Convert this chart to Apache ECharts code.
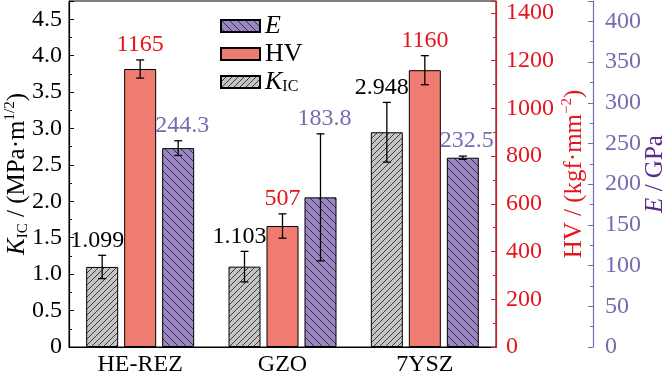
<!DOCTYPE html>
<html>
<head>
<meta charset="utf-8">
<script src="https://cdn.jsdelivr.net/npm/echarts@6/dist/echarts.min.js"></script>
<style>
  html, body { margin: 0; padding: 0; background: #fff; }
  #main { width: 671px; height: 377px; }
</style>
</head>
<body>
<div id="main"></div>
<script>
// 数据
var categories = ["HE-REZ", "GZO", "7YSZ"];
var kicValues = [1.099, 1.103, 2.948];
var kicErrors = [0.16, 0.21, 0.41];
var hvValues = [1165, 507, 1160];
var hvErrors = [38, 51, 61];
var eValues = [244.3, 183.8, 232.5];
var eErrors = [9, 78, 2];
var kicLabels = ["1.099", "1.103", "2.948"];
var hvLabels = ["1165", "507", "1160"];
var eLabels = ["244.3", "183.8", "232.5"];

var FONT = '"Liberation Serif", "Times New Roman", serif';
var RED = "#e3161d";
var PURPLE = "#7a68b0";
var BAR_W = 32;
var BAR_GAP = 6;

// 斜线填充
function hatch(bg, dir, step) {
  var c = document.createElement("canvas");
  c.width = c.height = step;
  var g = c.getContext("2d");
  g.fillStyle = bg;
  g.fillRect(0, 0, step, step);
  g.strokeStyle = "#2a2a2a";
  g.lineWidth = 0.9;
  g.beginPath();
  if (dir > 0) {
    g.moveTo(0, step); g.lineTo(step, 0);
    g.moveTo(-1, 1); g.lineTo(1, -1);
    g.moveTo(step - 1, step + 1); g.lineTo(step + 1, step - 1);
  } else {
    g.moveTo(0, 0); g.lineTo(step, step);
    g.moveTo(-1, step - 1); g.lineTo(1, step + 1);
    g.moveTo(step - 1, -1); g.lineTo(step + 1, 1);
  }
  g.stroke();
  return { image: c, repeat: "repeat" };
}

// 误差线 + 数值标签
function errSeries(name, yIdx, vals, errs, labels, slot, color, dx) {
  var data = vals.map(function (v, i) { return [i, v, errs[i]]; });
  return {
    name: name,
    type: "custom",
    yAxisIndex: yIdx,
    z: 10,
    silent: true,
    encode: { x: 0, y: 1 },
    data: data,
    renderItem: function (params, api) {
      var i = api.value(0), v = api.value(1), e = api.value(2);
      var top = api.coord([i, v + e]);
      var bot = api.coord([i, v - e]);
      var x = top[0] + slot * (BAR_W + BAR_GAP);
      var st = { stroke: "#000", lineWidth: 1.3 };
      return {
        type: "group",
        children: [
          { type: "line", shape: { x1: x, y1: top[1], x2: x, y2: bot[1] }, style: st },
          { type: "line", shape: { x1: x - 4, y1: top[1], x2: x + 4, y2: top[1] }, style: st },
          { type: "line", shape: { x1: x - 4, y1: bot[1], x2: x + 4, y2: bot[1] }, style: st },
          {
            type: "text",
            x: x + dx,
            y: top[1] - 3,
            style: {
              text: labels[i],
              fill: color,
              fontSize: 24,
              fontFamily: FONT,
              align: "center",
              verticalAlign: "bottom"
            }
          }
        ]
      };
    }
  };
}

var chart = echarts.init(document.getElementById("main"));
chart.setOption({
  animation: false,
  textStyle: { fontFamily: FONT },
  grid: {
    left: 69, right: 175, top: 1, bottom: 30,
    outerBoundsMode: "none",
    containLabel: false,
    show: true, borderColor: "#000", borderWidth: 1, backgroundColor: "transparent"
  },
  legend: {
    data: ["E", "HV", "KIC"],
    orient: "vertical",
    left: 215,
    top: 8,
    itemWidth: 39,
    itemHeight: 12,
    itemGap: 2,
    icon: "rect",
    textStyle: {
      fontSize: 26, color: "#000", fontFamily: FONT, lineHeight: 26,
      rich: {
        i: { fontSize: 26, fontStyle: "italic", fontFamily: FONT, lineHeight: 26 },
        sub: { fontSize: 16, fontFamily: FONT, verticalAlign: "bottom", lineHeight: 16 },
        n: { fontSize: 26, fontFamily: FONT, lineHeight: 26 }
      }
    },
    formatter: function (n) {
      if (n === "E") return "{i|E}";
      if (n === "KIC") return "{i|K}{sub|IC}";
      return "{n|" + n + "}";
    }
  },
  xAxis: {
    type: "category",
    data: categories,
    axisLine: { lineStyle: { color: "#000", width: 1.2 } },
    axisTick: { show: false },
    axisLabel: { fontSize: 24, color: "#000", fontFamily: FONT, margin: 6 }
  },
  yAxis: [
    {
      type: "value",
      min: 0, max: 4.75, interval: 0.5,
      position: "left",
      name: "{i|K}{sub|IC}{n| / (MPa·m}{sup|1/2}{n|)}",
      nameLocation: "middle",
      nameRotate: 90,
      nameGap: 38,
      nameMoveOverlap: false,
      nameTextStyle: {
        rich: {
          i: { fontSize: 25, fontStyle: "italic", fontFamily: FONT, color: "#000", lineHeight: 28 },
          n: { fontSize: 25, fontFamily: FONT, color: "#000", lineHeight: 28 },
          sub: { fontSize: 15, fontFamily: FONT, color: "#000", verticalAlign: "bottom", lineHeight: 15 },
          sup: { fontSize: 15, fontFamily: FONT, color: "#000", verticalAlign: "top", lineHeight: 15 }
        }
      },
      splitLine: { show: false },
      axisLine: { show: true, lineStyle: { color: "#000", width: 1.2 } },
      axisTick: { show: true, inside: true, length: 5, lineStyle: { color: "#000" } },
      minorTick: { show: true, splitNumber: 2, length: 3, lineStyle: { color: "#000" } },
      axisLabel: {
        fontSize: 24, color: "#000", fontFamily: FONT, margin: 7,
        formatter: function (v) {
          if (Math.abs(v * 2 - Math.round(v * 2)) > 1e-6) return "";
          return v === 0 ? "0" : v.toFixed(1);
        }
      }
    },
    {
      type: "value",
      min: 0, max: 1450, interval: 200,
      position: "right",
      name: "{n|HV / (kgf·mm}{sup|−2}{n|)}",
      nameLocation: "middle",
      nameRotate: 90,
      nameGap: 64,
      nameMoveOverlap: false,
      nameTextStyle: {
        rich: {
          n: { fontSize: 25, fontFamily: FONT, color: RED, lineHeight: 28 },
          sup: { fontSize: 15, fontFamily: FONT, color: RED, verticalAlign: "top", lineHeight: 15 }
        }
      },
      splitLine: { show: false },
      axisLine: { show: true, lineStyle: { color: RED, width: 1.2 } },
      axisTick: { show: true, inside: true, length: 5, lineStyle: { color: RED } },
      minorTick: { show: true, splitNumber: 2, length: 3, lineStyle: { color: RED } },
      axisLabel: {
        fontSize: 24, color: RED, fontFamily: FONT, margin: 10,
        formatter: function (v) { return v % 200 === 0 ? String(v) : ""; }
      }
    },
    {
      type: "value",
      min: 0, max: 425, interval: 50,
      position: "right",
      offset: 97,
      name: "{i|E}{p| / GPa}",
      nameLocation: "middle",
      nameRotate: 90,
      nameGap: 50,
      nameMoveOverlap: false,
      nameTextStyle: {
        rich: {
          i: { fontSize: 25, fontStyle: "italic", fontFamily: FONT, color: "#5a2a8a" },
          p: { fontSize: 25, fontFamily: FONT, color: "#5a2a8a" }
        }
      },
      splitLine: { show: false },
      axisLine: { show: true, lineStyle: { color: PURPLE, width: 1.2 } },
      axisTick: { show: true, inside: true, length: 5, lineStyle: { color: PURPLE } },
      minorTick: { show: true, splitNumber: 2, length: 3, lineStyle: { color: PURPLE } },
      axisLabel: {
        fontSize: 24, color: PURPLE, fontFamily: FONT, margin: 12,
        formatter: function (v) { return v % 50 === 0 ? String(v) : ""; }
      }
    }
  ],
  series: [
    {
      name: "KIC", type: "bar", yAxisIndex: 0,
      barWidth: BAR_W, barGap: (BAR_GAP / BAR_W * 100) + "%",
      data: kicValues,
      itemStyle: { color: hatch("#c4c4c4", 1, 6), borderColor: "#000", borderWidth: 1 }
    },
    {
      name: "HV", type: "bar", yAxisIndex: 1,
      barWidth: BAR_W, barGap: (BAR_GAP / BAR_W * 100) + "%",
      data: hvValues,
      itemStyle: { color: "#f07b70", borderColor: "#000", borderWidth: 1 }
    },
    {
      name: "E", type: "bar", yAxisIndex: 2,
      barWidth: BAR_W, barGap: (BAR_GAP / BAR_W * 100) + "%",
      data: eValues,
      itemStyle: { color: hatch("#9b86c4", -1, 8), borderColor: "#000", borderWidth: 1 }
    },
    errSeries("kicErr", 0, kicValues, kicErrors, kicLabels, -1, "#000", -5),
    errSeries("hvErr", 1, hvValues, hvErrors, hvLabels, 0, RED, 0),
    errSeries("eErr", 2, eValues, eErrors, eLabels, 1, PURPLE, 4)
  ]
});
</script>
</body>
</html>
